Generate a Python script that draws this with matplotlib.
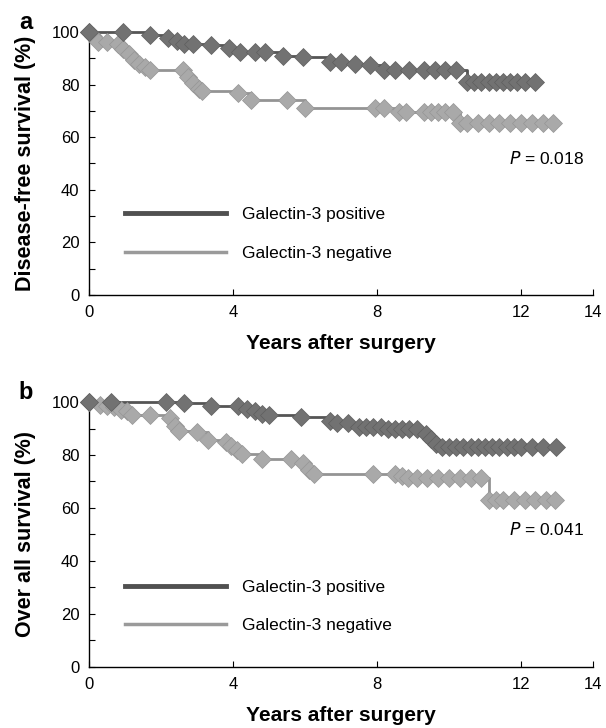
import matplotlib
matplotlib.use("Agg")
import matplotlib.pyplot as plt
from matplotlib.lines import Line2D

plt.rcParams['font.family'] = ['Liberation Sans', 'DejaVu Sans']

# ------------------------------ Datos ----------------------------

years_ticks = [0, 4, 8, 12, 14]

# a: Disease-free survival
dfs_pos_t = [0, 0.95, 1.7, 2.2, 2.45, 2.65, 2.9, 3.4, 3.9, 4.2, 4.6, 4.9, 5.4, 5.95, 6.7, 7.0, 7.4, 7.8,
             8.2, 8.5, 8.9, 9.3, 9.6, 9.9, 10.2, 10.5, 10.7, 10.9, 11.1, 11.3, 11.5, 11.7, 11.9, 12.1, 12.4]
dfs_pos_s = [100, 100, 98.8, 97.7, 96.5, 95.5, 95.5, 95.2, 94, 92.3, 92.3, 92.3, 91, 90.5, 88.5, 88.5, 88, 87.5,
             85.5, 85.5, 85.5, 85.5, 85.5, 85.5, 85.5, 81, 81, 81, 81, 81, 81, 81, 81, 81, 81]
dfs_neg_t = [0, 0.1, 0.25, 0.5, 0.8, 0.95, 1.1, 1.25, 1.4, 1.55, 1.7, 2.6, 2.75, 2.9, 3.05, 3.15, 4.15, 4.5,
             5.5, 6.0, 7.95, 8.2, 8.6, 8.8, 9.3, 9.5, 9.7, 9.9, 10.1, 10.3, 10.5, 10.8, 11.1, 11.4, 11.7, 12.0,
             12.3, 12.6, 12.9]
dfs_neg_s = [100, 98.5, 96, 96, 95.5, 93.5, 91.5, 89.5, 88, 86.5, 85.5, 85.5, 83, 80.5, 78.5, 77.5, 76.8, 74,
             74, 71, 71, 71, 69.6, 69.6, 69.6, 69.6, 69.6, 69.6, 69.6, 65.5, 65.5, 65.5, 65.5, 65.5, 65.5, 65.5,
             65.5, 65.5, 65.5]

# b: Over all survival
os_pos_t = [0, 0.6, 2.15, 2.65, 3.4, 4.15, 4.4, 4.6, 4.8, 5.0, 5.9, 6.7, 6.9, 7.2, 7.5, 7.7, 7.9, 8.1, 8.3,
            8.5, 8.7, 8.9, 9.1, 9.35, 9.5, 9.65, 9.8, 10.0, 10.2, 10.4, 10.6, 10.8, 11.0, 11.2, 11.4, 11.6,
            11.8, 12.0, 12.3, 12.6, 12.97]
os_pos_s = [100, 100, 100, 99.5, 98.5, 98.5, 97.5, 96.5, 95.5, 95, 94.5, 93, 92, 92, 90.5, 90.5, 90.5, 90.5, 90,
            90, 90, 90, 90, 88, 86, 84, 83, 83, 83, 83, 83, 83, 83, 83, 83, 83,
            83, 83, 83, 83, 83]
os_neg_t = [0, 0.3, 0.5, 0.7, 0.9, 1.05, 1.2, 1.7, 2.25, 2.4, 2.5, 3.0, 3.3, 3.8, 3.95, 4.1, 4.25, 4.8, 5.6,
            5.95, 6.1, 6.25, 7.9, 8.5, 8.7, 8.85, 9.1, 9.4, 9.7, 10.0, 10.3, 10.6, 10.9, 11.1, 11.3, 11.5,
            11.8, 12.1, 12.4, 12.7, 12.95]
os_neg_s = [100, 99, 98.5, 98, 97, 96.5, 95, 95, 94, 91, 89, 88.5, 85.5, 85, 83.5, 82, 80.5, 78.5, 78.5,
            77, 74.5, 73, 73, 73, 72, 71.3, 71.3, 71.3, 71.3, 71.3, 71.3, 71.3, 71.3, 63, 63, 63,
            63, 63, 63, 63, 63]

labels = ['Galectin-3 positive', 'Galectin-3 negative']

pos_line, pos_face, pos_edge = '#555555', '#727272', '#5e5e5e'
neg_line, neg_face, neg_edge = '#949494', '#a9a9a9', '#959595'

# ------------------------------ Funciones ----------------------------

def km_curve(ax, t, s, line, face, edge):
    ax.step(t, s, where='post', color=line, lw=2.0, clip_on=False, zorder=2)
    ax.plot(t, s, ls='none', marker='D', ms=9.5, mfc=face, mec=edge, mew=0.5,
            clip_on=False, zorder=3)


def panel(ax, pos_t, pos_s, neg_t, neg_s, ylabel, letter, pval, legend_y):
    km_curve(ax, neg_t, neg_s, neg_line, neg_face, neg_edge)
    km_curve(ax, pos_t, pos_s, pos_line, pos_face, pos_edge)

    ax.set_xlim(0, 14)
    ax.set_ylim(0, 100)
    ax.set_xticks(years_ticks)
    ax.set_yticks(range(0, 101, 20))
    ax.set_yticks(range(10, 100, 20), minor=True)
    ax.tick_params(direction='in', length=4, width=0.8, labelsize=12, pad=7)
    ax.tick_params(which='minor', direction='in', length=4, width=0.8)
    ax.spines['top'].set_visible(False)
    ax.spines['right'].set_visible(False)
    for sp in ('left', 'bottom'):
        ax.spines[sp].set_linewidth(1.0)

    ax.set_xlabel('Years after surgery', fontsize=15, fontweight='bold', labelpad=10)
    ax.set_ylabel(ylabel, fontsize=15.5, fontweight='bold', labelpad=11)
    ax.text(-0.125, 1.035, letter, transform=ax.transAxes, fontsize=17, fontweight='bold',
            ha='center', va='center')
    ax.text(13.75, 52, '$P$ = ' + pval, fontsize=12.5, ha='right', va='center')

    handles = [Line2D([], [], color='#505050', lw=3.5),
               Line2D([], [], color='#9a9a9a', lw=2.5)]
    ax.legend(handles, labels, loc='center left', bbox_to_anchor=(0.072, legend_y),
              frameon=False, fontsize=12.5, handlelength=5.8, handletextpad=0.95,
              labelspacing=1.35, borderpad=0, borderaxespad=0)


# ------------------------------ Grafica ----------------------------

fig = plt.figure(figsize=(6.06, 7.28), dpi=100)
ax_a = fig.add_axes([0.1469, 0.5948, 0.8317, 0.3613])
ax_b = fig.add_axes([0.1469, 0.0838, 0.8317, 0.3640])

panel(ax_a, dfs_pos_t, dfs_pos_s, dfs_neg_t, dfs_neg_s,
      'Disease-free survival (%)', 'a', '0.018', 0.232)
panel(ax_b, os_pos_t, os_pos_s, os_neg_t, os_neg_s,
      'Over all survival (%)', 'b', '0.041', 0.228)

fig.savefig('out.png', dpi=100)
